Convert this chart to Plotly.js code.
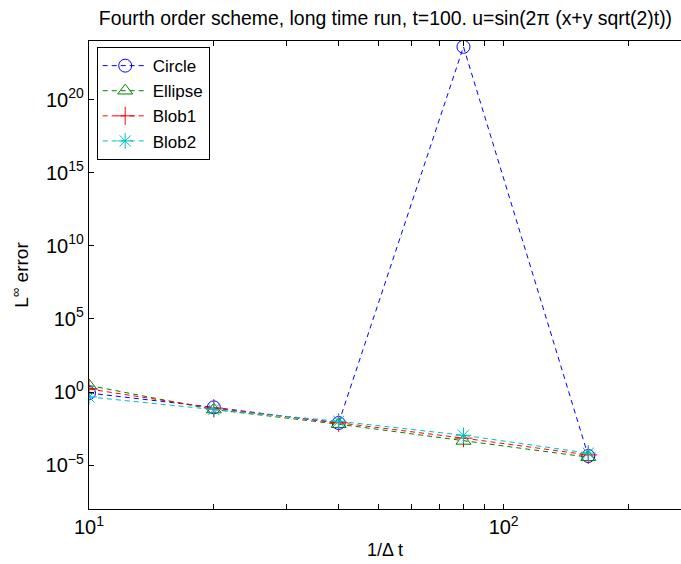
<!DOCTYPE html>
<html>
<head>
<meta charset="utf-8">
<script src="https://cdn.plot.ly/plotly-3.0.1.min.js"></script>
<style>html,body{margin:0;padding:0;background:#fff;}#chart{width:681px;height:564px;}</style>
</head>
<body>
<div id="chart"></div>
<script>
const invDt = [10, 20, 40, 80, 160];
const circle = [0.85, 0.089, 0.0076, 4e23, 4.2e-5];
const ellipse = [2.8, 0.063, 0.0063, 4.5e-4, 3.5e-5];
const blob1 = [1.6, 0.079, 0.0079, 7e-4, 5e-5];
const blob2 = [0.46, 0.063, 0.01, 1.1e-3, 6.6e-5];

const xTickVals = [10, 20, 30, 40, 50, 60, 70, 80, 90, 100, 200];
const xTickText = ['10<sup>1</sup>', '', '', '', '', '', '', '', '', '10<sup>2</sup>', ''];
const yTickVals = [1e-5, 1, 1e5, 1e10, 1e15, 1e20];
const yTickText = ['10<sup>\u22125</sup>', '10<sup>0</sup>', '10<sup>5</sup>', '10<sup>10</sup>', '10<sup>15</sup>', '10<sup>20</sup>'];

function tr(name, y, color, symbol) {
  return {
    x: invDt, y: y, name: name, type: 'scatter', mode: 'lines+markers',
    line: {color: color, width: 1, dash: '5px,4px'},
    marker: {symbol: symbol, size: 13, color: color, line: {color: color, width: 1}}
  };
}

const data = [
  tr('Circle', circle, 'rgb(0,0,255)', 'circle-open'),
  tr('Ellipse', ellipse, 'rgb(0,128,0)', 'triangle-up-open'),
  tr('Blob1', blob1, 'rgb(255,0,0)', 'cross-thin-open'),
  tr('Blob2', blob2, 'rgb(0,191,191)', 'asterisk-open')
];

const layout = {
  width: 681, height: 564,
  margin: {l: 88.5, r: 0, t: 41, b: 55},
  paper_bgcolor: '#fff', plot_bgcolor: '#fff',
  font: {family: 'Liberation Sans, Arial, sans-serif', size: 18, color: '#000'},
  title: {text: 'Fourth order scheme, long time run, t=100. u=sin(2\u03c0 (x+y sqrt(2)t))',
          font: {size: 19.4}, x: 0.566, xanchor: 'center', y: 0.968, yanchor: 'middle'},
  xaxis: {
    type: 'log', range: [1, 2.4277], showgrid: false, zeroline: false,
    showline: true, linecolor: '#000', linewidth: 1.2, mirror: 'ticks',
    ticks: 'inside', ticklen: 5, tickcolor: '#000',
    tickmode: 'array', tickvals: xTickVals, ticktext: xTickText,
    tickfont: {size: 20},
    title: {text: '1/\u0394 t', font: {size: 18}, standoff: 6}
  },
  yaxis: {
    type: 'log', range: [-8, 24], showgrid: false, zeroline: false,
    showline: true, linecolor: '#000', linewidth: 1.2, mirror: false,
    ticks: 'inside', ticklen: 5, tickcolor: '#000',
    tickmode: 'array', tickvals: yTickVals, ticktext: yTickText,
    tickfont: {size: 20},
    title: {text: 'L<sup>\u221e</sup> error', font: {size: 19}, standoff: 12}
  },
  legend: {
    x: 0.013, y: 0.987, xanchor: 'left', yanchor: 'top',
    bgcolor: '#fff', bordercolor: '#000', borderwidth: 1,
    font: {size: 17}, tracegroupgap: 0, itemwidth: 45
  },
  showlegend: true
};

Plotly.newPlot('chart', data, layout, {displayModeBar: false, staticPlot: true});
</script>
</body>
</html>
